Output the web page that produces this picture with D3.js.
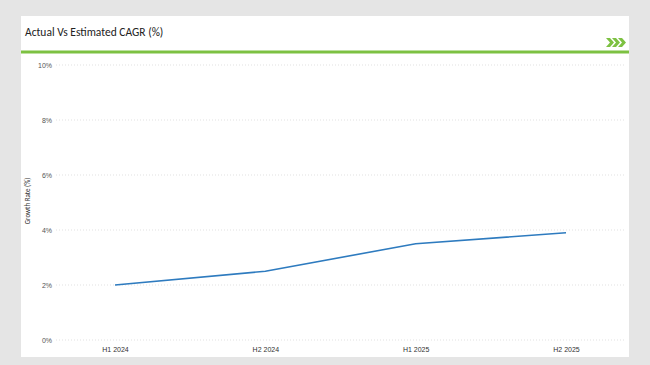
<!DOCTYPE html>
<html><head><meta charset="utf-8">
<script src="https://cdn.jsdelivr.net/npm/d3@7"></script>
<style>
html,body{margin:0;padding:0;background:#e5e5e5;}
svg{display:block;font-family:Calibri,Carlito,"Liberation Sans","Open Sans",sans-serif;}
</style></head>
<body><svg id="c" width="650" height="365"></svg>
<script>
const categories = ["H1 2024", "H2 2024", "H1 2025", "H2 2025"];
const growthRate = [2.0, 2.5, 3.5, 3.9];
const yTicks = [0, 2, 4, 6, 8, 10];
const titleText = "Actual Vs Estimated CAGR (%)";
const yAxisLabel = "Growth Rate (%)";

const svg = d3.select("#c");
svg.append("rect").attr("x",0).attr("y",0).attr("width",650).attr("height",365).attr("fill","#e5e5e5");
svg.append("rect").attr("x",21).attr("y",16).attr("width",608).attr("height",341).attr("fill","#ffffff");
svg.append("text").attr("x",25).attr("y",36).attr("font-size",11.5).attr("fill","#222").text(titleText);
svg.append("rect").attr("x",21).attr("y",50.5).attr("width",608).attr("height",3).attr("fill","#7dc142");
// chevrons
const chev = svg.append("g").attr("fill","#7dc142");
[0,6,12].forEach(dx=>{
  const x0 = 606+dx;
  chev.append("path").attr("d",`M${x0},38 L${x0+4},38 L${x0+8},42.5 L${x0+4},47 L${x0},47 L${x0+4},42.5 Z`);
});

const x = d3.scalePoint().domain(categories).range([115,566]);
const y = d3.scaleLinear().domain([0,10]).range([340,65]);

const grid = svg.append("g");
grid.selectAll("line").data(yTicks).join("line")
  .attr("x1",56).attr("x2",625)
  .attr("y1",d=>y(d)).attr("y2",d=>y(d))
  .attr("stroke","#d9d9d9").attr("stroke-width",0.8).attr("stroke-dasharray","1,2");

const yAxis = svg.append("g").attr("transform","translate(52,0)")
  .call(d3.axisLeft(y).tickValues(yTicks).tickFormat(d=>d+"%").tickSize(0).tickPadding(0));
yAxis.select(".domain").remove();
yAxis.selectAll("text").attr("font-size",7).attr("fill","#555").attr("font-family","inherit");

const xAxis = svg.append("g").attr("transform","translate(0,343)")
  .call(d3.axisBottom(x).tickSize(0).tickPadding(4));
xAxis.select(".domain").remove();
xAxis.selectAll("text").attr("font-size",7).attr("fill","#333").attr("font-family","inherit");

svg.append("text").attr("transform","translate(30,201) rotate(-90)")
  .attr("text-anchor","middle").attr("font-size",7).attr("fill","#333").text(yAxisLabel);

const line = d3.line().x((d,i)=>x(categories[i])).y(d=>y(d));
svg.append("path").datum(growthRate).attr("d",line)
  .attr("fill","none").attr("stroke","#2e7bbf").attr("stroke-width",1.6);
</script></body></html>
